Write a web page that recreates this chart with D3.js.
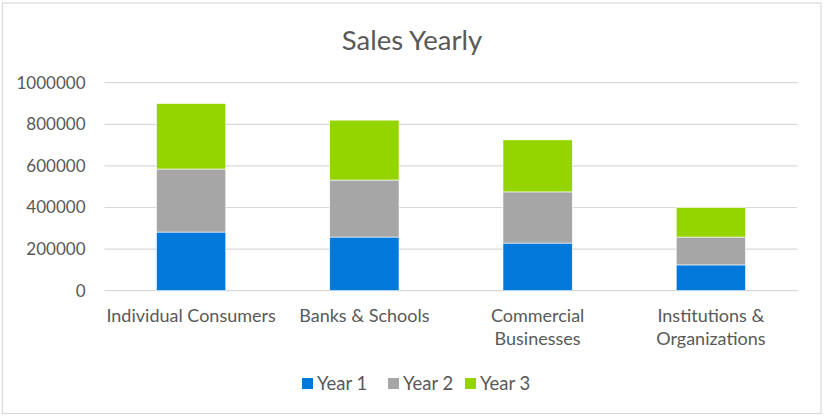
<!DOCTYPE html>
<html>
<head>
<meta charset="utf-8">
<script src="https://cdn.jsdelivr.net/npm/d3@7"></script>
<style>
  html, body { margin: 0; padding: 0; background: #fff; }
  svg { display: block; }
  text { font-family: Lato, "Open Sans", sans-serif; fill: #595959; }
</style>
</head>
<body>
<svg id="chart" width="824" height="417"></svg>
<script>
const title = "Sales Yearly";
const categories = [["Individual Consumers"], ["Banks & Schools"], ["Commercial", "Businesses"], ["Institutions &", "Organizations"]];
const seriesNames = ["Year 1", "Year 2", "Year 3"];
const seriesColors = ["#0079DB", "#A6A6A6", "#94D500"];
const year1 = [282000, 258000, 229000, 124000];
const year2 = [303000, 274000, 246000, 134000];
const year3 = [315000, 288000, 250000, 142000];
const yTicks = [0, 200000, 400000, 600000, 800000, 1000000];

const svg = d3.select("#chart");
const W = 824, H = 417;
const margin = { left: 104.5, right: 26.5, top: 82.7, bottom: 126.3 };
const plotW = W - margin.left - margin.right;
const plotH = H - margin.top - margin.bottom;

// chart border
svg.append("rect").attr("x", 2.5).attr("y", 3).attr("width", 818.5).attr("height", 410.5)
  .attr("fill", "#fff").attr("stroke", "#D9D9D9").attr("stroke-width", 1.2);

svg.append("text").attr("x", 412).attr("y", 50).attr("text-anchor", "middle")
  .style("font-size", "27.5px").text(title);

const g = svg.append("g").attr("transform", `translate(${margin.left},${margin.top})`);

const x = d3.scaleBand().domain(d3.range(categories.length)).range([0, plotW]).paddingInner(0.6).paddingOuter(0.3);
const y = d3.scaleLinear().domain([0, 1000000]).range([plotH, 0]);

// gridlines
g.append("g").selectAll("line").data(yTicks).join("line")
  .attr("x1", 0).attr("x2", plotW)
  .attr("y1", d => y(d)).attr("y2", d => y(d))
  .attr("stroke", "#D9D9D9").attr("stroke-width", 1.2);

// y axis labels via d3 axis
const yAxis = d3.axisLeft(y).tickValues(yTicks).tickFormat(d3.format("d")).tickSize(0).tickPadding(19);
const ya = g.append("g").call(yAxis);
ya.select(".domain").remove();
ya.selectAll("text").style("font-size", "17px").style("fill", "#595959").style("font-family", "Lato, sans-serif");

// stacked bars
const data = categories.map((c, i) => ({ i, "Year 1": year1[i], "Year 2": year2[i], "Year 3": year3[i] }));
const stack = d3.stack().keys(seriesNames)(data);
g.append("g").selectAll("g").data(stack).join("g")
  .attr("fill", (d, k) => seriesColors[k])
  .selectAll("rect").data(d => d).join("rect")
  .attr("x", d => x(d.data.i))
  .attr("width", x.bandwidth())
  .attr("y", d => y(d[1]))
  .attr("height", d => y(d[0]) - y(d[1]))
  .attr("stroke", "#fff").attr("stroke-width", 0.6);

// category labels
const xl = g.append("g").attr("transform", `translate(0,${plotH})`);
categories.forEach((lines, i) => {
  const t = xl.append("text").attr("text-anchor", "middle")
    .attr("x", x(i) + x.bandwidth() / 2).attr("y", 31)
    .style("font-size", "18px");
  lines.forEach((ln, j) => {
    t.append("tspan").attr("x", x(i) + x.bandwidth() / 2).attr("dy", j === 0 ? 0 : 23.5).text(ln);
  });
});

// legend
const legendX = [302, 388, 465];
const lg = svg.append("g");
seriesNames.forEach((s, k) => {
  lg.append("rect").attr("x", legendX[k]).attr("y", 378).attr("width", 11).attr("height", 11).attr("fill", seriesColors[k]);
  lg.append("text").attr("x", legendX[k] + 15).attr("y", 389.5).style("font-size", "18.5px").text(s);
});
</script>
</body>
</html>
